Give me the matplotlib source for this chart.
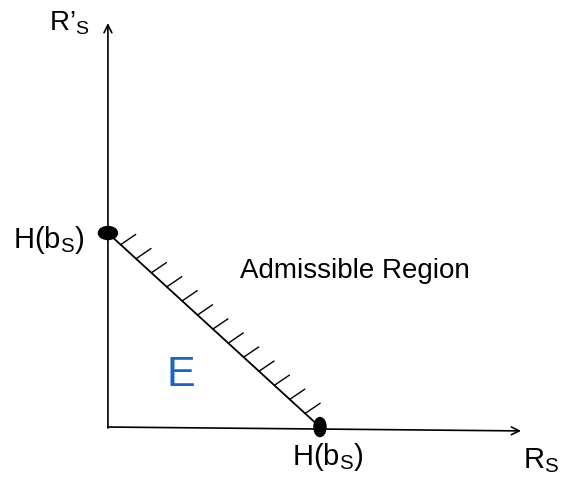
import numpy as np
import matplotlib
matplotlib.use('Agg')
import matplotlib.pyplot as plt
from matplotlib.patches import Ellipse

plt.rcParams['font.family'] = ['Liberation Sans', 'DejaVu Sans']
plt.rcParams['mathtext.fontset'] = 'custom'
plt.rcParams['mathtext.rm'] = 'Liberation Sans'

# entropy bound on both axes (normalised)
h_bs = 1.0
boundary_x = [0.0, h_bs]
boundary_y = [h_bs, 0.0]
hatch_pos = np.linspace(0.06, 0.93, 13)   # positions of the hatch marks along the boundary

x_label = 'R$_\\mathregular{S}$'
y_label = 'R\u2019$_\\mathregular{S}$'
h_label = 'H(b$_\\mathregular{S}$)'
region_label = 'Admissible Region'
e_label = 'E'

fig = plt.figure(figsize=(5.74, 4.8), dpi=100)
ax = fig.add_axes([0, 0, 1, 1])
ax.set_xlim(-0.509, 2.198)
ax.set_ylim(-0.273, 2.201)
ax.axis('off')

# axes arrows
ax.annotate('', xy=(1.948, -0.02), xytext=(0, 0),
            arrowprops=dict(arrowstyle='->', lw=1.2, color='black', shrinkA=0, shrinkB=0,
                            mutation_scale=14))
ax.annotate('', xy=(0, 2.082), xytext=(0, -0.005),
            arrowprops=dict(arrowstyle='->', lw=1.2, color='black', shrinkA=0, shrinkB=0,
                            mutation_scale=14))

# boundary line
ax.plot(boundary_x, boundary_y, color='black', lw=1.3)

# hatch marks toward admissible region
x0, y0 = boundary_x[0], boundary_y[0]
x1, y1 = boundary_x[1], boundary_y[1]
for t in hatch_pos:
    bx = x0 + t * (x1 - x0)
    by = y0 + t * (y1 - y0)
    ax.plot([bx, bx + 0.07], [by, by + 0.052], color='black', lw=1.0)

# end points
ax.add_patch(Ellipse((0, h_bs), 0.09, 0.067, color='black', zorder=5))
ax.add_patch(Ellipse((h_bs, 0), 0.057, 0.098, color='black', zorder=5))

# labels
ax.text(-0.278, 2.046, y_label, fontsize=20, ha='left', va='baseline')
ax.text(-0.448, 0.923, h_label, fontsize=21, ha='left', va='baseline')
ax.text(0.868, -0.196, h_label, fontsize=21, ha='left', va='baseline')
ax.text(1.958, -0.211, x_label, fontsize=21, ha='left', va='baseline')
ax.text(0.623, 0.768, region_label, fontsize=20, ha='left', va='baseline')
ax.text(0.278, 0.211, e_label, fontsize=31, color='#1666C5', ha='left', va='baseline')

fig.savefig('out.png', dpi=100)
